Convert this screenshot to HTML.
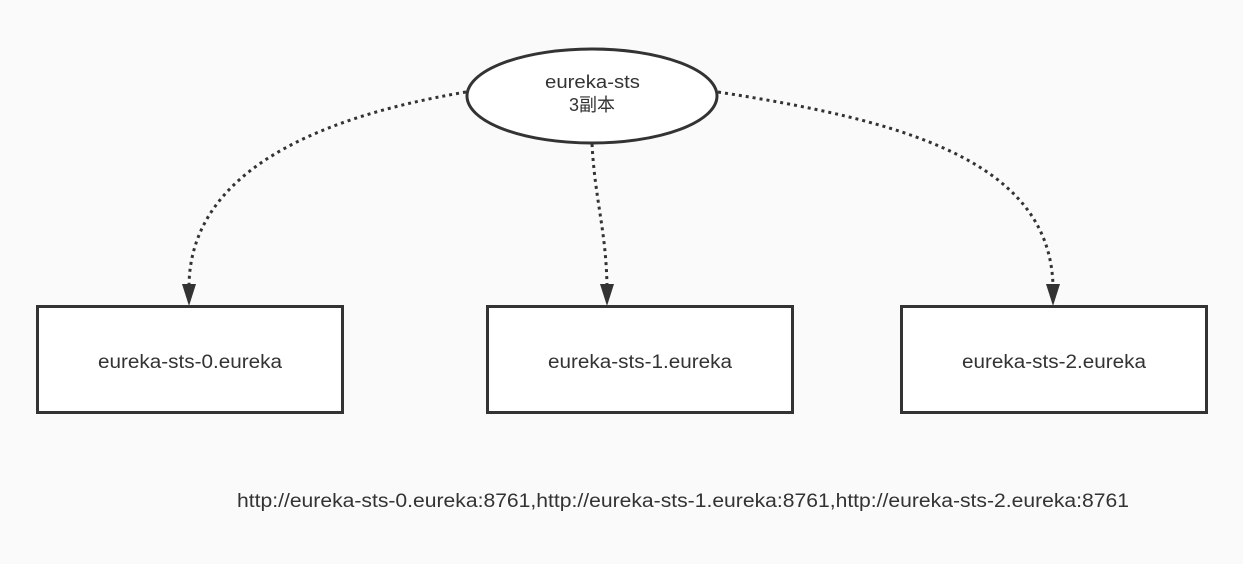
<!DOCTYPE html>
<html><head><meta charset="utf-8"><style>
html,body{margin:0;padding:0;background:#fafafa;}
svg{display:block;}
text{font-family:"Liberation Sans","Noto Sans CJK SC",sans-serif;fill:#333;}
</style></head><body>
<svg width="1243" height="564" viewBox="0 0 1243 564">
<rect width="1243" height="564" fill="#fafafa"/>
<g fill="none" stroke="#333" stroke-width="3" stroke-dasharray="3 4">
<path d="M466 92 C300 120 190 180 189 286"/>
<path d="M592 144 C595 200 606 230 607 286"/>
<path d="M718 92 C900 120 1050 160 1053 286"/>
</g>
<g fill="#333">
<path d="M182 284 L196 284 L189 306 Z"/>
<path d="M600 284 L614 284 L607 306 Z"/>
<path d="M1046 284 L1060 284 L1053 306 Z"/>
</g>
<ellipse cx="592" cy="96" rx="125" ry="47" fill="#fff" stroke="#333" stroke-width="3"/>
<text x="545" y="88" font-size="18" textLength="95" lengthAdjust="spacingAndGlyphs">eureka-sts</text>
<text x="592" y="111" font-size="18" text-anchor="middle">3副本</text>
<g fill="#fff" stroke="#333" stroke-width="3">
<rect x="37.5" y="306.5" width="305" height="106"/>
<rect x="487.5" y="306.5" width="305" height="106"/>
<rect x="901.5" y="306.5" width="305" height="106"/>
</g>
<text x="98" y="368" font-size="19" textLength="184" lengthAdjust="spacingAndGlyphs">eureka-sts-0.eureka</text>
<text x="548" y="368" font-size="19" textLength="184" lengthAdjust="spacingAndGlyphs">eureka-sts-1.eureka</text>
<text x="962" y="368" font-size="19" textLength="184" lengthAdjust="spacingAndGlyphs">eureka-sts-2.eureka</text>
<text x="237" y="507" font-size="19" textLength="892" lengthAdjust="spacingAndGlyphs">http://eureka-sts-0.eureka:8761,http://eureka-sts-1.eureka:8761,http://eureka-sts-2.eureka:8761</text>
</svg>
</body></html>
